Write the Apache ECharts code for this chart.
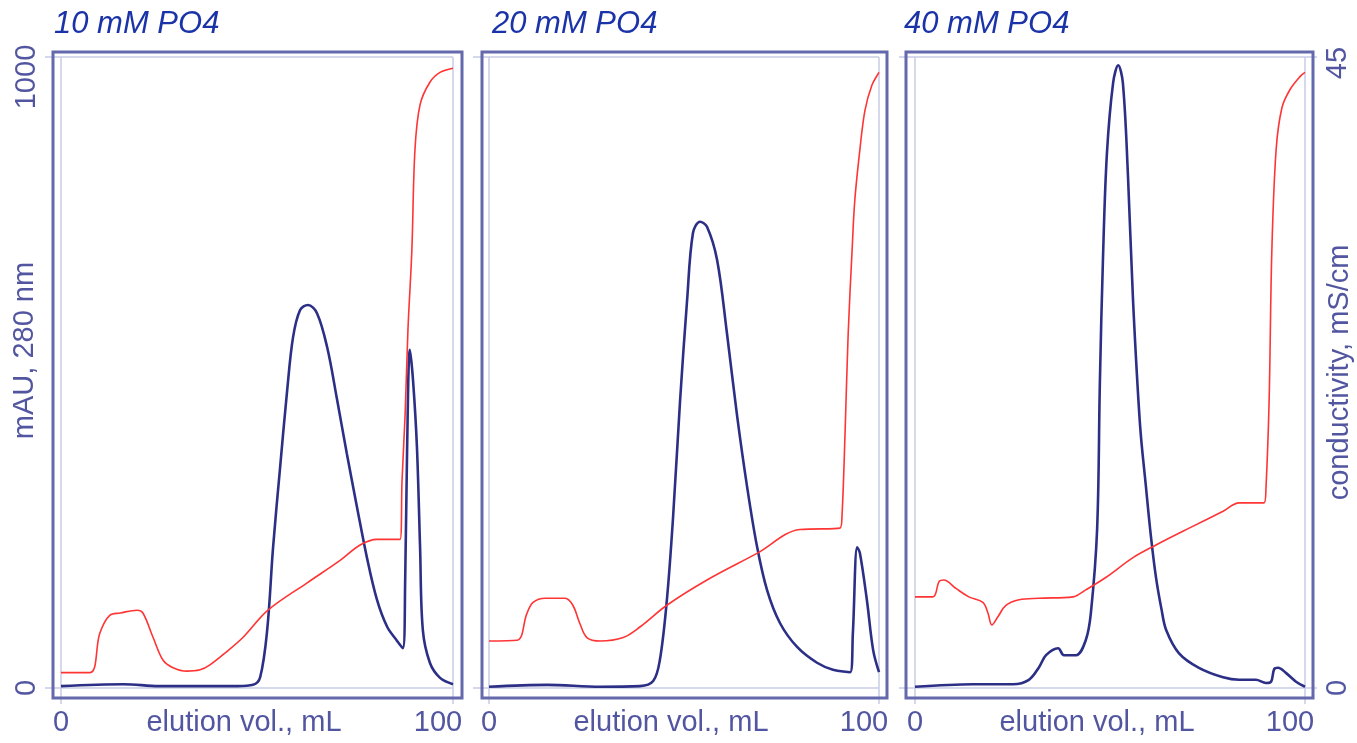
<!DOCTYPE html>
<html><head><meta charset="utf-8">
<script src="https://cdn.jsdelivr.net/npm/echarts@6/dist/echarts.min.js"></script>
<style>html,body{margin:0;padding:0;background:#fff}#c{width:1357px;height:743px}</style>
</head><body><div id="c"></div>
<script>
// ---------------- data ----------------
const panelTitles = ['10 mM PO4', '20 mM PO4', '40 mM PO4'];
const xTicks = [0, 100];            // elution vol., mL
const mauTicks = [0, 1000];         // mAU, 280 nm
const condTicks = [0, 45];          // conductivity, mS/cm

// Panel 1 (10 mM PO4)
const p1UvVol  = [0,16,25,45,49,50.8,52.6,54.1,55.9,57.7,59.2,61,63,65.3,67.9,70.4,72.9,75.5,78.1,80.6,83.2,85.7,87.2,87.8,88.3,89,89.8,90.8,91.6,92.3,94.1,96.7,100];
const p1UvMau  = [3,6,3,3,5,17,92,223,350,472,556,599,607,594,540,458,372,287,205,140,97,75,63,171,382,536,488,382,223,92,40,16,6];
const p1CondVol = [0,7.4,9.9,12.5,15.1,19.4,20.9,23.5,26.0,28.6,32.1,35.5,38.0,42.3,46.4,52.8,62.8,71.2,76.3,80.6,86.5,87.0,87.8,88.5,89.5,90.3,91.6,94.1,96.7,100];
const p1Cond    = [1.1,1.1,3.9,5.2,5.35,5.55,5.35,3.6,2.0,1.45,1.2,1.3,1.65,2.6,3.6,5.55,7.5,9.1,10.2,10.6,10.6,14.8,19.6,25.5,31.2,38.4,41.6,43.2,43.9,44.2];

// Panel 2 (20 mM PO4)
const p2UvVol  = [0,14.9,28.5,38.7,42.1,43.8,45.6,47.2,49,50.8,52.3,54.1,55.9,58.5,61,63.6,66.2,68.7,71.3,74.6,79,84.1,88.2,92.6,93.3,94.4,95.1,96.9,98.5,100];
const p2UvMau  = [2,5,2,3,11,44,139,271,456,615,721,739,731,678,563,432,318,225,155,103,65,40,29,25,87,223,214,139,60,25];
const p2CondVol = [0,7.2,9.7,11.3,14.4,19.5,21.5,23.3,25.1,28.5,34.4,38.7,45.6,55.9,68.7,79.7,90,90.5,91.3,92.1,93.1,93.8,95.1,96.4,98.2,100];
const p2Cond    = [3.35,3.4,5.3,6.1,6.4,6.4,5.9,4.6,3.6,3.35,3.6,4.35,5.9,7.7,9.6,11.3,11.4,12.2,18.2,25.3,31.2,34.8,38.4,41.2,43.0,43.9];

// Panel 3 (40 mM PO4)
const p3UvVol  = [0,14.9,25.1,29.2,31.8,33.6,36.7,38.2,41.3,43.8,45.1,46.7,47.4,48.2,49.2,50.8,52.1,53.3,54.6,55.9,57.7,59.2,60.5,61.8,63.2,64.4,67.7,72.8,79,83.1,87.4,90,91.3,92.1,93.1,95.1,97.7,100];
const p3UvMau  = [2,6,6,13,33,52,63,52,52,76,119,252,483,681,846,959,987,959,813,615,417,320,240,175,125,92,55,32,17,13,13,8,10,30,32,24,10,2];
const p3CondVol = [0,4.6,6.2,7.4,10.5,13.8,17.4,18.7,19.7,21.3,23.3,26.7,31.8,40.5,43.8,49,55.9,61.8,70.3,79,83.1,89.5,90,90.8,91.5,92.6,94.1,96.2,98.7,100];
const p3Cond    = [6.5,6.5,7.6,7.7,7.1,6.5,6.1,5.35,4.5,5.1,5.9,6.3,6.4,6.5,7.0,7.9,9.3,10.2,11.4,12.6,13.2,13.2,14.3,20.5,31.2,38.4,41.4,42.7,43.6,43.9];

// ---------------- style / layout ----------------
const FONT = "'Liberation Sans', Arial, sans-serif";
const AX = '#5256a0';
const LIGHT = '#c8cbe6';
const FRAME = '#6468ac';
const BLUE = '#2c2f86';
const RED = '#ff3434';
const FS = 29;

const grids = [
  {left: 61, top: 57, width: 392, height: 631},
  {left: 489, top: 57, width: 390, height: 631},
  {left: 915, top: 57, width: 390, height: 631}
];
const frames = [
  {x: 53, y: 52, w: 409, h: 646},
  {x: 482, y: 52, w: 405, h: 646},
  {x: 906, y: 52, w: 407, h: 646}
];
const titleLeft = [49, 487, 899];

const zip = (a, b) => a.map((v, i) => [v, b[i]]);
const uv = [zip(p1UvVol, p1UvMau), zip(p2UvVol, p2UvMau), zip(p3UvVol, p3UvMau)];
const cond = [zip(p1CondVol, p1Cond), zip(p2CondVol, p2Cond), zip(p3CondVol, p3Cond)];

const xAxes = [], yAxes = [], series = [], titles = [], graphics = [];
for (let i = 0; i < 3; i++) {
  titles.push({text: panelTitles[i], left: titleLeft[i], top: 4,
    textStyle: {fontFamily: FONT, fontSize: 31, fontStyle: 'italic', fontWeight: 'normal', color: '#1a33a8'}});
  xAxes.push({
    type: 'value', gridIndex: i, min: xTicks[0], max: xTicks[1], interval: xTicks[1] - xTicks[0],
    axisLine: {show: false},
    axisTick: {show: true, length: 16, lineStyle: {color: LIGHT, width: 1.5}},
    splitLine: {show: true, lineStyle: {color: LIGHT, width: 1.5}},
    axisLabel: {margin: 20, fontSize: FS, fontFamily: FONT, color: AX,
      formatter: v => v === xTicks[1] ? '{r|' + v + '}' : String(v),
      rich: {r: {fontSize: FS, fontFamily: FONT, color: AX, padding: [0, 30, 0, 0]}}},
    name: 'elution vol., mL', nameLocation: 'middle', nameGap: 20, nameMoveOverlap: false,
    nameTextStyle: {fontSize: FS, fontFamily: FONT, color: AX, padding: [0, 26, 0, 0]}
  });
  yAxes.push({
    type: 'value', gridIndex: i, position: 'left', min: mauTicks[0], max: mauTicks[1], interval: mauTicks[1] - mauTicks[0],
    axisLine: {show: false},
    axisTick: {show: true, length: 16, lineStyle: {color: LIGHT, width: 1.5}},
    splitLine: {show: true, lineStyle: {color: LIGHT, width: 1.5}},
    axisLabel: {show: i === 0, rotate: 90, margin: 20, fontSize: FS, fontFamily: FONT, color: AX,
      formatter: v => v === mauTicks[1] ? '{t|' + v + '}' : String(v),
      rich: {t: {fontSize: FS, fontFamily: FONT, color: AX, padding: [0, 40, 0, 0]}}},
    name: i === 0 ? 'mAU, 280 nm' : '', nameLocation: 'middle', nameRotate: 90, nameGap: 22, nameMoveOverlap: false,
    nameTextStyle: {fontSize: FS, fontFamily: FONT, color: AX, padding: [0, 0, 0, 44]}
  });
  yAxes.push({
    type: 'value', gridIndex: i, position: 'right', min: condTicks[0], max: condTicks[1], interval: condTicks[1] - condTicks[0],
    show: i === 2,
    axisLine: {show: false},
    axisTick: {show: i === 2, length: 12, lineStyle: {color: LIGHT, width: 1.5}},
    splitLine: {show: false},
    axisLabel: {show: i === 2, rotate: 90, margin: 18, fontSize: FS, fontFamily: FONT, color: AX,
      formatter: v => v === condTicks[1] ? '{t|' + v + '}' : String(v),
      rich: {t: {fontSize: FS, fontFamily: FONT, color: AX, padding: [0, 12, 0, 0]}}},
    name: i === 2 ? 'conductivity, mS/cm' : '', nameLocation: 'middle', nameRotate: 90, nameGap: 20, nameMoveOverlap: false,
    nameTextStyle: {fontSize: FS, fontFamily: FONT, color: AX}
  });
  series.push({type: 'line', xAxisIndex: i, yAxisIndex: 2 * i, data: uv[i], showSymbol: false,
    smooth: 0.35, lineStyle: {color: BLUE, width: 2.6}, z: 3});
  series.push({type: 'line', xAxisIndex: i, yAxisIndex: 2 * i + 1, data: cond[i], showSymbol: false,
    smooth: 0.35, lineStyle: {color: RED, width: 1.6}, z: 4});
  const f = frames[i];
  graphics.push({type: 'rect', z: 10, shape: {x: f.x, y: f.y, width: f.w, height: f.h},
    style: {fill: 'transparent', stroke: FRAME, lineWidth: 3}});
}

const chart = echarts.init(document.getElementById('c'), null, {renderer: 'canvas'});
chart.setOption({
  animation: false,
  backgroundColor: '#ffffff',
  title: titles,
  grid: grids.map(g => Object.assign({outerBoundsMode: 'none', containLabel: false}, g)),
  xAxis: xAxes,
  yAxis: yAxes,
  series: series,
  graphic: graphics
});
</script>
</body></html>
